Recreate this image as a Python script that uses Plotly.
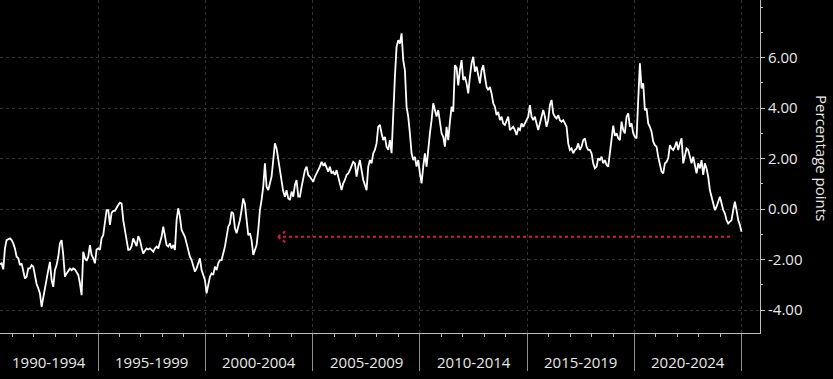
import numpy as np
import plotly.graph_objects as go

# ---- data ----
START_YEAR = 1990.43
END_YEAR = 2024.99
values = [
    -2.18, -2.15, -2.39, -1.56, -1.23, -1.19, -1.16, -1.23, -1.36, -1.56,
    -1.89, -1.95, -2.22, -2.15, -2.48, -2.75, -2.68, -2.35, -2.35, -2.22,
    -2.28, -2.61, -2.97, -3.14, -3.34, -3.87, -3.47, -3.21, -2.81, -2.42,
    -2.09, -2.81, -3.08, -2.42, -2.22, -1.89, -1.36, -1.23, -1.82, -2.68,
    -2.55, -2.44, -2.36, -2.42, -2.35, -2.39, -2.48, -2.61, -2.94, -3.41,
    -1.69, -1.95, -2.05, -1.89, -1.43, -1.82, -1.95, -2.15, -1.60, -1.56,
    -1.62, -1.16, -1.03, -0.57, -0.04, -0.04, -0.63, -0.15, -0.07, -0.07,
    0.06, 0.16, 0.25, 0.22, -0.44, -0.83, -1.23, -1.62, -1.60, -1.47,
    -1.16, -1.36, -1.47, -1.07, -1.23, -1.52, -1.76, -1.65, -1.56, -1.60,
    -1.56, -1.62, -1.69, -1.56, -1.49, -1.56, -1.29, -1.10, -0.70, -1.16,
    -1.43, -1.49, -1.36, -1.56, -1.43, -1.62, -0.44, 0.03, -0.30, -0.83,
    -0.96, -1.10, -1.36, -1.69, -1.89, -2.02, -2.28, -2.48, -2.35, -2.15,
    -1.95, -2.42, -2.61, -2.81, -3.34, -2.94, -2.68, -2.55, -2.61, -2.28,
    -2.42, -2.15, -2.02, -2.02, -1.76, -1.49, -1.10, -0.70, -0.57, -0.11,
    -0.17, -0.76, -0.96, -0.70, -0.44, -0.04, 0.42, 0.20, -0.44, -1.03,
    -0.96, -1.23, -1.82, -1.62, -1.43, -0.83, -0.04, 0.36, 0.88, 1.81,
    0.88, 0.75, 1.02, 1.28, 1.94, 2.60, 2.40, 1.94, 1.54, 1.15,
    0.69, 0.49, 0.75, 0.42, 0.36, 0.69, 0.49, 0.95, 1.15, 0.49,
    0.49, 0.88, 1.15, 1.54, 1.68, 1.35, 1.28, 1.15, 1.08, 1.28,
    1.41, 1.54, 1.68, 1.87, 1.74, 1.81, 1.61, 1.48, 1.68, 1.41,
    1.48, 1.35, 1.54, 1.28, 1.02, 0.75, 1.02, 1.15, 1.35, 1.41,
    1.54, 1.68, 1.87, 1.81, 1.28, 1.68, 1.94, 1.54, 1.15, 0.95,
    0.75, 1.68, 1.94, 1.81, 2.21, 2.34, 2.60, 3.26, 3.33, 3.00,
    2.73, 2.86, 2.47, 2.34, 2.73, 2.21, 4.05, 5.24, 6.43, 6.69,
    6.55, 6.96, 5.90, 5.50, 4.05, 3.66, 3.00, 2.21, 1.94, 2.07,
    1.68, 1.94, 1.41, 1.02, 1.68, 2.21, 1.68, 2.47, 3.00, 3.52,
    4.19, 3.92, 3.66, 3.92, 3.52, 3.00, 2.86, 2.47, 3.26, 2.73,
    3.45, 4.05, 3.85, 5.70, 5.60, 4.90, 5.50, 5.90, 5.11, 5.24,
    4.98, 4.58, 5.24, 5.77, 6.03, 5.44, 5.64, 5.24, 4.98, 5.50,
    5.70, 5.24, 4.84, 4.71, 4.84, 4.58, 4.19, 4.05, 3.72, 3.85,
    3.52, 3.66, 3.39, 3.33, 3.52, 3.66, 3.13, 3.19, 3.26, 3.13,
    2.93, 3.19, 3.13, 3.39, 3.26, 3.39, 3.52, 3.66, 4.12, 3.66,
    3.52, 3.66, 3.39, 3.13, 3.39, 3.66, 3.92, 3.66, 3.26, 3.52,
    4.12, 4.32, 3.79, 3.66, 3.59, 3.72, 3.52, 3.46, 3.52, 3.39,
    3.26, 2.60, 2.34, 2.40, 2.21, 2.34, 2.40, 2.60, 2.34, 2.47,
    2.73, 2.80, 2.47, 2.34, 2.34, 2.21, 1.81, 1.61, 1.68, 2.01,
    1.94, 2.07, 1.81, 1.94, 1.74, 1.68, 2.20, 2.70, 3.30, 2.90,
    3.00, 2.80, 2.73, 3.46, 3.13, 3.00, 3.66, 3.79, 3.26, 3.39,
    3.00, 2.86, 2.80, 4.32, 5.77, 4.78, 4.98, 3.92, 3.99, 3.39,
    3.26, 3.06, 2.67, 2.53, 2.47, 2.07, 1.81, 1.48, 1.41, 1.81,
    1.87, 2.01, 2.53, 2.40, 2.34, 2.47, 2.67, 2.34, 2.60, 2.80,
    1.81, 2.07, 2.40, 2.34, 2.07, 1.81, 2.07, 1.74, 1.41, 1.81,
    1.61, 1.94, 1.35, 1.81, 1.61, 1.28, 0.75, 0.49, 0.23, -0.04,
    0.09, 0.29, 0.49, 0.23, -0.04, -0.17, -0.44, -0.57, -0.50, -0.44,
    -0.04, 0.29, -0.04, -0.44, -0.63, -0.90,
]
period_bounds = [1990, 1995, 2000, 2005, 2010, 2015, 2020, 2025]
period_labels = ["1990-1994", "1995-1999", "2000-2004", "2005-2009",
                 "2010-2014", "2015-2019", "2020-2024"]
y_tickvals = [-4, -2, 0, 2, 4, 6]
y_ticktext = ["-4.00", "-2.00", "0.00", "2.00", "4.00", "6.00"]
y_title = "Percentage points"
ARROW_LEVEL = -1.1
ARROW_FROM = 2024.45
ARROW_TO = 2003.39

# ---- styling ----
X_RANGE = [1990.433, 2025.85]
Y_RANGE = [-4.91, 8.28]
FONT = "Open Sans"
TXT = "#e8e8e8"
GRID = "#333333"
AXIS = "#bdbdbd"
SEP = "#8f8f8f"
RED = "#c8204f"

years = np.linspace(START_YEAR, END_YEAR, len(values))

fig = go.Figure()
fig.add_trace(go.Scatter(x=years, y=values, mode="lines",
                         line=dict(color="#ffffff", width=1.8),
                         hoverinfo="skip", showlegend=False))

fig.update_layout(
    width=833, height=379,
    margin=dict(l=0, r=73, t=0, b=46),
    paper_bgcolor="#000000", plot_bgcolor="#000000",
    font=dict(family=FONT, size=15, color=TXT),
    showlegend=False,
)
fig.update_xaxes(
    range=X_RANGE, tickvals=period_bounds, showticklabels=False,
    ticks="outside", ticklen=37, tickcolor=SEP, tickwidth=1,
    showgrid=True, gridcolor=GRID, griddash="dot", gridwidth=1,
    showline=True, linecolor=AXIS, linewidth=1, zeroline=False,
    minor=dict(tick0=1990, dtick=1, ticks="outside", ticklen=3,
               tickcolor=AXIS, showgrid=False),
)
fig.update_yaxes(
    range=Y_RANGE, side="right", tickvals=y_tickvals, ticktext=y_ticktext,
    ticks="outside", ticklen=4, tickcolor=AXIS,
    showgrid=True, gridcolor=GRID, griddash="dot", gridwidth=1,
    showline=True, linecolor=AXIS, linewidth=1, zeroline=False,
    tickfont=dict(family=FONT, size=15, color=TXT),
    minor=dict(dtick=1, ticks="outside", ticklen=2, tickcolor=AXIS, showgrid=False),
)

# period labels, centred on the visible part of each period
for lo, hi, lab in zip(period_bounds[:-1], period_bounds[1:], period_labels):
    a, b = max(lo, X_RANGE[0]), min(hi, X_RANGE[1])
    fig.add_annotation(x=(a + b) / 2, xref="x", y=-0.087, yref="paper",
                       text=lab, showarrow=False, yanchor="middle",
                       font=dict(family=FONT, size=15, color=TXT))

# axis title on the right, reading top to bottom
fig.add_annotation(x=1.0815, xref="paper", y=0.5255, yref="paper",
                   text=y_title, textangle=90, showarrow=False,
                   xanchor="center", yanchor="middle",
                   font=dict(family=FONT, size=15, color=TXT))

# red dotted arrow
fig.add_shape(type="line", xref="x", yref="y", x0=ARROW_FROM, x1=ARROW_TO,
              y0=ARROW_LEVEL, y1=ARROW_LEVEL,
              line=dict(color=RED, width=2, dash="dot"))
for dy in (6, -6):
    fig.add_shape(type="line", xref="x", yref="y",
                  xsizemode="pixel", xanchor=ARROW_TO, x0=0, x1=8,
                  ysizemode="pixel", yanchor=ARROW_LEVEL, y0=0, y1=dy,
                  line=dict(color=RED, width=2, dash="dot"))

fig.write_html("out.html")
